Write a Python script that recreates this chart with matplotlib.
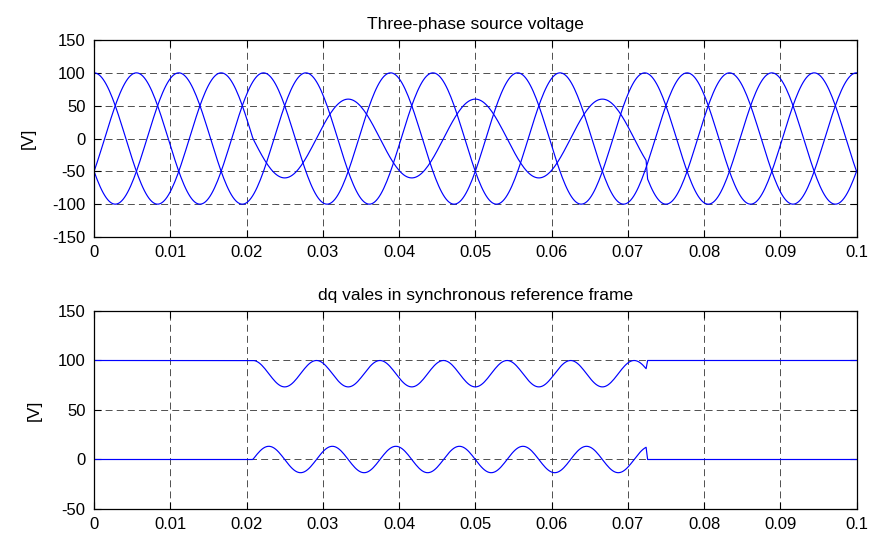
import matplotlib
matplotlib.use("Agg")
import matplotlib.pyplot as plt
import numpy as np

# values
freq = 60.0            # Hz
amplitude = 100.0      # V
sag_remaining = 0.6    # phase a drops to 60 V during the sag
sag_start = 0.020833   # s
sag_end = 0.0725       # s
t_stop = 0.1
dt = 0.0002

x_ticks = [0, 0.01, 0.02, 0.03, 0.04, 0.05, 0.06, 0.07, 0.08, 0.09, 0.1]
x_labels = ["0", "0.01", "0.02", "0.03", "0.04", "0.05", "0.06", "0.07", "0.08", "0.09", "0.1"]
y_ticks_top = [-150, -100, -50, 0, 50, 100, 150]
y_ticks_bottom = [-50, 0, 50, 100, 150]

t = np.arange(0, t_stop + dt / 2, dt)
theta = 2 * np.pi * freq * t
gain_a = np.where((t >= sag_start) & (t < sag_end), sag_remaining, 1.0)
va = amplitude * gain_a * np.cos(theta)
vb = amplitude * np.cos(theta - 2 * np.pi / 3)
vc = amplitude * np.cos(theta + 2 * np.pi / 3)

# dq transform in the synchronous frame
vd = 2 / 3 * (va * np.cos(theta) + vb * np.cos(theta - 2 * np.pi / 3) + vc * np.cos(theta + 2 * np.pi / 3))
vq = 2 / 3 * (va * np.sin(theta) + vb * np.sin(theta - 2 * np.pi / 3) + vc * np.sin(theta + 2 * np.pi / 3))

plt.rcParams['font.family'] = ['Liberation Sans', 'DejaVu Sans']
plt.rcParams['font.size'] = 12
plt.rcParams['axes.unicode_minus'] = False
plt.rcParams['lines.scale_dashes'] = False

fig = plt.figure(figsize=(8.71, 5.35), dpi=100)
ax1 = fig.add_axes([0.108, 0.557, 0.8754, 0.3682])
ax2 = fig.add_axes([0.108, 0.0486, 0.8754, 0.3701])

blue = (0, 0, 1)
for v in (va, vb, vc):
    ax1.plot(t, v, color=blue, lw=0.85)
ax2.plot(t, vd, color=blue, lw=0.85)
ax2.plot(t, vq, color=blue, lw=0.85)

ax1.set_title("Three-phase source voltage", fontsize=12.5, pad=8)
ax2.set_title("dq vales in synchronous reference frame", fontsize=12.5, pad=8)

for ax, yt in ((ax1, y_ticks_top), (ax2, y_ticks_bottom)):
    ax.set_xlim(0, 0.1)
    ax.set_ylim(yt[0], yt[-1])
    ax.set_xticks(x_ticks)
    ax.set_xticklabels(x_labels)
    ax.set_yticks(yt)
    ax.set_ylabel("[V]", fontsize=12.5, labelpad=12)
    ax.tick_params(direction='in', top=True, right=True, length=5, width=0.8,
                   labelsize=12, pad=6)
    ax.grid(True, color='0.2', lw=0.6, ls=(0, (5, 3)))
    for s in ax.spines.values():
        s.set_linewidth(0.9)

fig.savefig("out.png", dpi=100)
